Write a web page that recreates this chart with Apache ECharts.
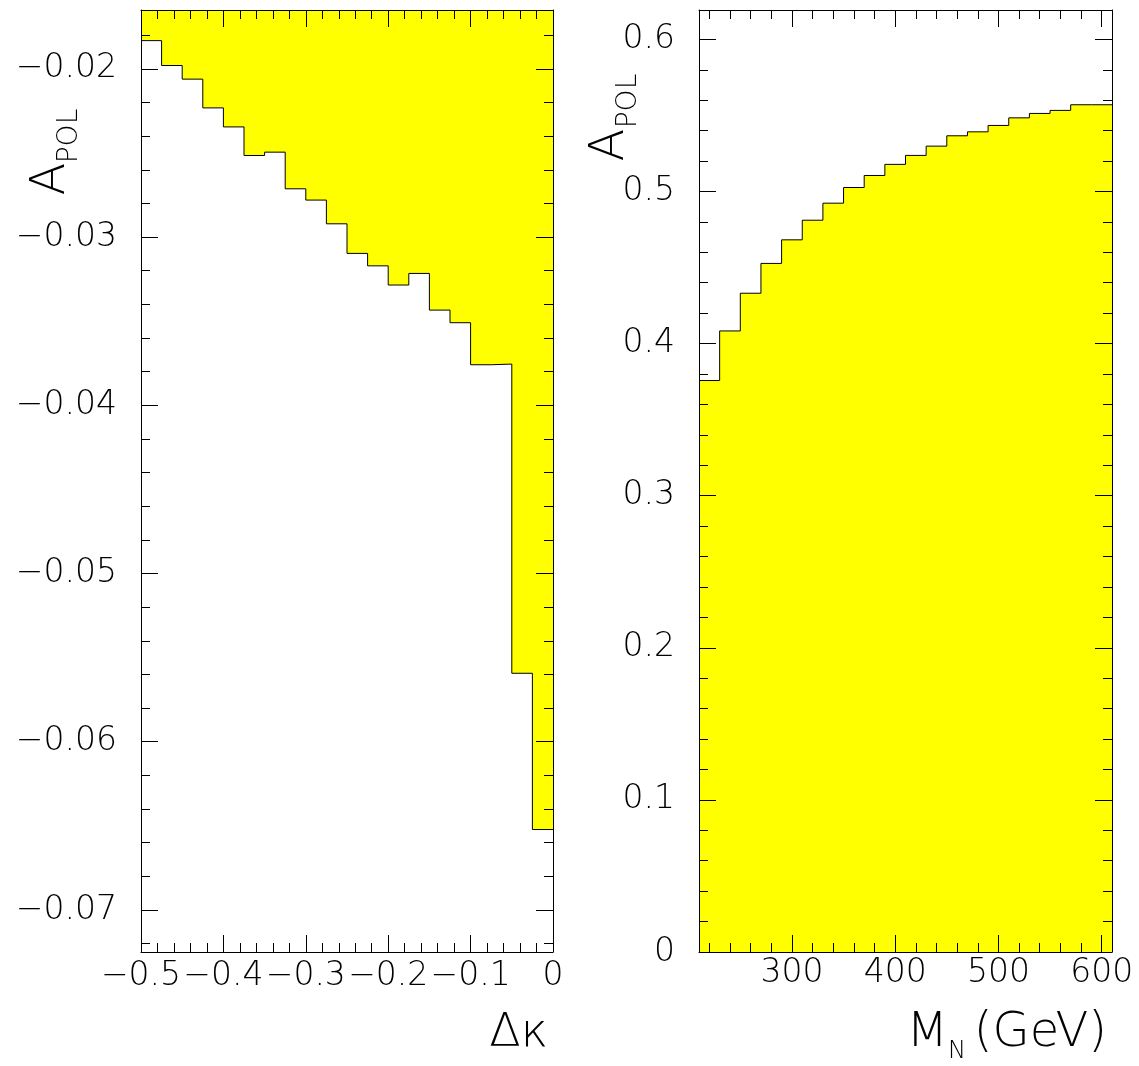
<!DOCTYPE html>
<html><head><meta charset="utf-8">
<script src="https://cdn.jsdelivr.net/npm/echarts@6/dist/echarts.min.js"></script>
<style>html,body{margin:0;padding:0;background:#fff}#c{width:1139px;height:1066px}</style>
</head><body><div id="c"></div>
<script>
// ---------- data ----------
const kappaEdges = [-0.5,-0.475,-0.45,-0.425,-0.4,-0.375,-0.35,-0.325,-0.3,-0.275,-0.25,-0.225,-0.2,-0.175,-0.15,-0.125,-0.1,-0.075,-0.05,-0.025,0];
const apolKappa = [-0.01832,-0.0198,-0.02061,-0.02232,-0.02345,-0.02515,-0.02495,-0.02713,-0.0278,-0.02921,-0.03097,-0.03171,-0.03285,-0.03216,-0.03434,-0.03509,-0.03759,-0.03755,-0.05593,-0.06522];
const massEdges = [210,230,250,270,290,310,330,350,370,390,410,430,450,470,490,510,530,550,570,590,610];
const apolMass = [0.3757,0.4083,0.4331,0.4527,0.4682,0.4811,0.4923,0.5026,0.5105,0.5178,0.5237,0.5298,0.5366,0.5392,0.5434,0.5484,0.5513,0.5533,0.5570,0.5570];

// ---------- axes ranges and tick labels ----------
const kappaRange = [-0.5, 0];
const apolKappaRange = [-0.0725, -0.0165];
const massRange = [210, 610];
const apolMassRange = [0, 0.6193];
const kappaMajorTicks = [-0.5,-0.4,-0.3,-0.2,-0.1,0];
const kappaMinorTicks = [-0.48,-0.46,-0.44,-0.42,-0.38,-0.36,-0.34,-0.32,-0.28,-0.26,-0.24,-0.22,-0.18,-0.16,-0.14,-0.12,-0.08,-0.06,-0.04,-0.02];
const apolKappaMajorTicks = [-0.07,-0.06,-0.05,-0.04,-0.03,-0.02];
const apolKappaMinorTicks = [-0.072,-0.068,-0.066,-0.064,-0.062,-0.058,-0.056,-0.054,-0.052,-0.048,-0.046,-0.044,-0.042,-0.038,-0.036,-0.034,-0.032,-0.028,-0.026,-0.024,-0.022,-0.018];
const massMajorTicks = [300,400,500,600];
const massMinorTicks = [220,240,260,280,320,340,360,380,420,440,460,480,520,540,560,580];
const apolMassMajorTicks = [0,0.1,0.2,0.3,0.4,0.5,0.6];
const apolMassMinorTicks = [0.02,0.04,0.06,0.08,0.12,0.14,0.16,0.18,0.22,0.24,0.26,0.28,0.32,0.34,0.36,0.38,0.42,0.44,0.46,0.48,0.52,0.54,0.56,0.58];

const FONT = "'DejaVu Sans', sans-serif";
const FW = 200;
const MINUS = '\u2212';

function histPoints(edges, vals) {
  const pts = vals.map((v, i) => [edges[i], v]);
  pts.push([edges[edges.length - 1], vals[vals.length - 1]]);
  return pts;
}
function fmtSigned(dec) {
  return v => (Math.abs(v) < 1e-12 ? '0' : (v < 0 ? MINUS : '') + Math.abs(v).toFixed(dec));
}
function axis(grid, pos, range, ticks, len, line, label) {
  const a = {
    type: 'value', gridIndex: grid, position: pos, min: range[0], max: range[1], z: 5,
    axisLine: {show: line, onZero: false, lineStyle: {color: '#000', width: 1}},
    axisTick: {show: true, inside: true, length: len, customValues: ticks, lineStyle: {color: '#000', width: 1}},
    axisLabel: {show: false},
    splitLine: {show: false}
  };
  if (label) {
    a.axisLabel = Object.assign({show: true, customValues: ticks, fontFamily: FONT, fontWeight: FW, fontSize: 33, color: '#000'}, label);
  }
  return a;
}
const MAJ = 17, MIN = 9;
const xAxes = [
  axis(0, 'bottom', kappaRange, kappaMajorTicks, MAJ, true, {formatter: fmtSigned(1), margin: 8}),
  axis(0, 'bottom', kappaRange, kappaMinorTicks, MIN, false),
  axis(0, 'top', kappaRange, kappaMajorTicks, MAJ, true),
  axis(0, 'top', kappaRange, kappaMinorTicks, MIN, false),
  axis(1, 'bottom', massRange, massMajorTicks, MAJ, true, {formatter: v => String(v), margin: 5}),
  axis(1, 'bottom', massRange, massMinorTicks, MIN, false),
  axis(1, 'top', massRange, massMajorTicks, MAJ, true),
  axis(1, 'top', massRange, massMinorTicks, MIN, false)
];
const yAxes = [
  axis(0, 'left', apolKappaRange, apolKappaMajorTicks, MAJ, true, {formatter: fmtSigned(2), margin: 24}),
  axis(0, 'left', apolKappaRange, apolKappaMinorTicks, MIN, false),
  axis(0, 'right', apolKappaRange, apolKappaMajorTicks, MAJ, true),
  axis(0, 'right', apolKappaRange, apolKappaMinorTicks, MIN, false),
  axis(1, 'left', apolMassRange, apolMassMajorTicks, MAJ, true, {formatter: v => (v === 0 ? '0' : v.toFixed(1)), margin: 24}),
  axis(1, 'left', apolMassRange, apolMassMinorTicks, MIN, false),
  axis(1, 'right', apolMassRange, apolMassMajorTicks, MAJ, true),
  axis(1, 'right', apolMassRange, apolMassMinorTicks, MIN, false)
];

function txt(x, y, text, size, opts) {
  return Object.assign({type: 'text', x: x, y: y, z: 10, style: Object.assign({
    text: text, fontFamily: FONT, fontWeight: FW, fontSize: size, fill: '#000', align: 'center', verticalAlign: 'middle'
  }, (opts && opts.style) || {})}, (opts && opts.el) || {});
}
const ROT = {el: {rotation: Math.PI / 2}};

const option = {
  animation: false,
  backgroundColor: '#fff',
  grid: [
    {left: 141, top: 10, width: 412, height: 942, show: false},
    {left: 699, top: 10, width: 413, height: 942, show: false}
  ],
  xAxis: xAxes,
  yAxis: yAxes,
  series: [
    {type: 'line', xAxisIndex: 0, yAxisIndex: 0, step: 'end', data: histPoints(kappaEdges, apolKappa),
     symbol: 'none', z: 2, lineStyle: {color: '#000', width: 1},
     areaStyle: {color: '#ffff00', opacity: 1, origin: 'end'}},
    {type: 'line', xAxisIndex: 4, yAxisIndex: 4, step: 'end', data: histPoints(massEdges, apolMass),
     symbol: 'none', z: 2, lineStyle: {color: '#000', width: 1},
     areaStyle: {color: '#ffff00', opacity: 1, origin: 'start'}}
  ],
  graphic: [
    txt(52, 179, 'A', 48, ROT),
    txt(70, 136, 'POL', 28, ROT),
    txt(611, 145, 'A', 48, ROT),
    txt(629, 101, 'POL', 28, ROT),
    txt(548, 1034, '\u0394\u03ba', 46, {style: {align: 'right'}}),
    txt(948, 1034, 'M', 48, {style: {align: 'right'}}),
    txt(966, 1052, 'N', 24, {style: {align: 'right'}}),
    txt(1107, 1034, '(GeV)', 48, {style: {align: 'right'}})
  ]
};
echarts.init(document.getElementById('c'), null, {renderer: 'canvas'}).setOption(option);
</script>
</body></html>
